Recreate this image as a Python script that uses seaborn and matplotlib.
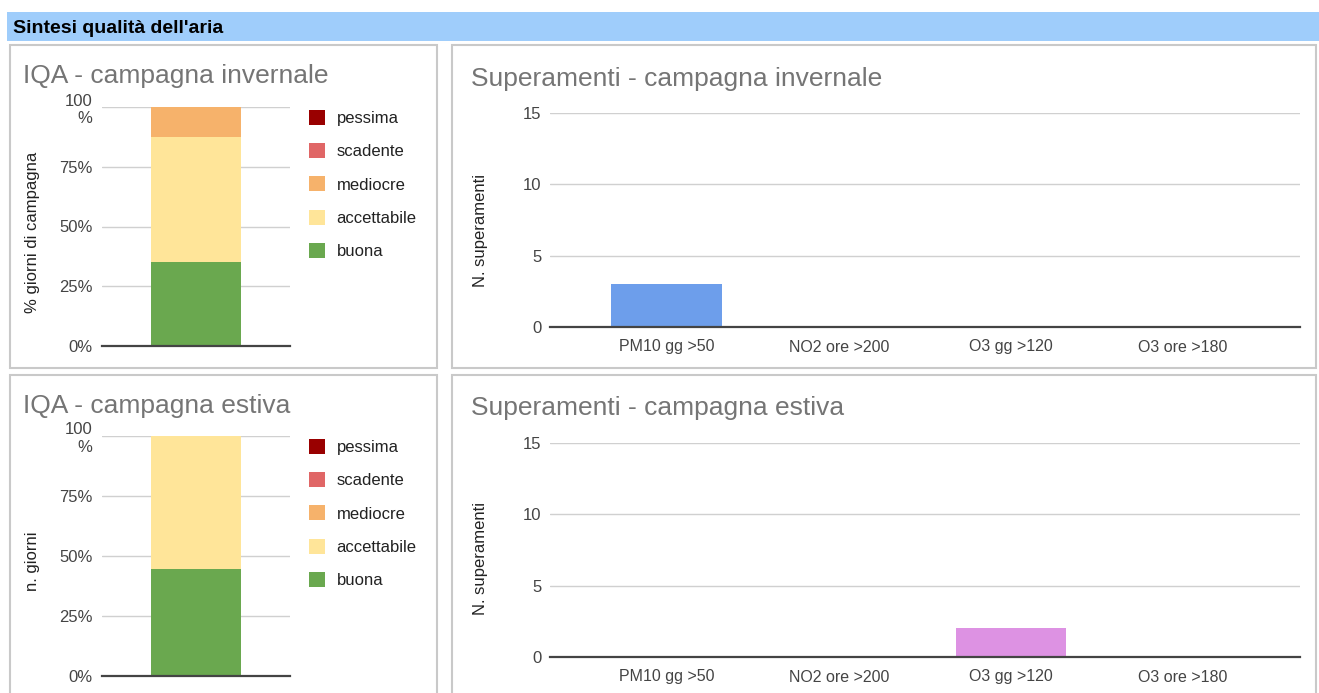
import matplotlib
matplotlib.use("Agg")
import matplotlib.pyplot as plt
from matplotlib.patches import Rectangle, Patch
import seaborn as sns
import pandas as pd

# ---------------- data ----------------
header_title = "Sintesi qualità dell'aria"

iqa_levels = ["pessima", "scadente", "mediocre", "accettabile", "buona"]
iqa_colors = ["#990000", "#e06666", "#f6b26b", "#ffe599", "#6aa84f"]
iqa_winter = [0.0, 0.0, 12.6, 52.3, 35.1]   # % giorni
iqa_summer = [0.0, 0.0, 0.0, 55.4, 44.6]
iqa_ticks = [0, 25, 50, 75, 100]
iqa_ticklabels = ["0%", "25%", "50%", "75%", "100\n%"]

exc_categories = ["PM10 gg >50", "NO2 ore >200", "O3 gg >120", "O3 ore >180"]
exc_colors = ["#6d9eeb", "#76a5af", "#dd92e3", "#c27ba0"]
exc_winter = [3, 0, 0, 0]
exc_summer = [0, 0, 2, 0]
exc_ticks = [0, 5, 10, 15]

titles = {
    "iqa_w": "IQA - campagna invernale",
    "iqa_s": "IQA - campagna estiva",
    "exc_w": "Superamenti - campagna invernale",
    "exc_s": "Superamenti - campagna estiva",
}
ylabels = {"iqa_w": "% giorni di campagna", "iqa_s": "n. giorni", "exc": "N. superamenti"}

# ---------------- style ----------------
sns.set_style("white")
plt.rcParams["font.family"] = ["Liberation Sans", "DejaVu Sans"]

W, H = 1319, 693
fig = plt.figure(figsize=(W / 100, H / 100), dpi=100)
fig.patch.set_facecolor("white")

TITLE_C = "#757575"
TICK_C = "#444444"
GRID_C = "#d0d0d0"
BASE_C = "#444444"


def px_axes(x0, y0, x1, y1):
    return fig.add_axes([x0 / W, 1 - y1 / H, (x1 - x0) / W, (y1 - y0) / H])


def fig_rect(x0, y0, x1, y1, **kw):
    r = Rectangle((x0 / W, 1 - y1 / H), (x1 - x0) / W, (y1 - y0) / H,
                  transform=fig.transFigure, **kw)
    fig.patches.append(r)


def fig_text(x, y, s, **kw):
    fig.text(x / W, 1 - y / H, s, **kw)


# header band
fig_rect(7, 12, W + 2, 41, facecolor="#9fcdfb", edgecolor="none", zorder=-2)
fig_text(13, 33, header_title, fontsize=14, fontweight="bold", color="black", va="baseline")

# panel borders
for (x0, y0, x1, y1) in [(10, 45, 437, 368), (452, 45, 1316, 368),
                         (10, 375, 437, 700), (452, 375, 1316, 700)]:
    fig_rect(x0, y0, x1, y1, facecolor="none", edgecolor="#c9c9c9", linewidth=1.5, zorder=-1)


def style_axes(ax, ticks, ticklabels, ypad):
    ax.set_ylim(ticks[0], ticks[-1])
    ax.set_yticks(ticks)
    ax.set_yticklabels(ticklabels)
    ax.tick_params(axis="y", length=0, pad=ypad, labelsize=12, labelcolor=TICK_C)
    ax.tick_params(axis="x", length=0)
    for s in ["left", "right", "top"]:
        ax.spines[s].set_visible(False)
    ax.spines["bottom"].set_color(BASE_C)
    ax.spines["bottom"].set_linewidth(1.6)
    ax.yaxis.grid(True, color=GRID_C, linewidth=1.0)
    ax.set_axisbelow(True)
    ax.set_facecolor("none")


def iqa_panel(box, values, title, title_xy, ylabel, ylab_y):
    ax = px_axes(*box)
    df = pd.DataFrame({"campagna": ["c"] * len(iqa_levels), "livello": iqa_levels, "pct": values})
    # stack from bottom (buona) to top (pessima)
    bottom = 0.0
    for lvl, col, v in reversed(list(zip(iqa_levels, iqa_colors, values))):
        sub = df[df["livello"] == lvl]
        if v > 0:
            sns.barplot(data=sub, x="campagna", y="pct", color=col, width=0.48,
                        bottom=bottom, linewidth=0, saturation=1, ax=ax, errorbar=None)
        bottom += v
    ax.set_xlim(-0.5, 0.5)
    style_axes(ax, iqa_ticks, iqa_ticklabels, 7)
    ax.set_xticks([])
    ax.set_xlabel("")
    ax.set_ylabel(ylabel, fontsize=12, color="#222222")
    ax.yaxis.set_label_coords(-0.33, ylab_y)
    handles = [Patch(facecolor=c, edgecolor="none") for c in iqa_colors]
    ax.legend(handles, iqa_levels, loc="upper left", bbox_to_anchor=(1.10, 0.987),
              frameon=False, fontsize=12, handlelength=1.0, handleheight=1.0,
              handletextpad=0.66, labelspacing=1.02, borderpad=0, borderaxespad=0,
              labelcolor="#222222")
    fig_text(title_xy[0], title_xy[1], title, fontsize=19, color=TITLE_C, va="baseline")
    return ax


def exc_panel(box, values, title, title_xy, ylab_y):
    ax = px_axes(*box)
    df = pd.DataFrame({"parametro": exc_categories, "n": values})
    sns.barplot(data=df, x="parametro", y="n", hue="parametro", palette=exc_colors,
                order=exc_categories, hue_order=exc_categories, width=0.645,
                linewidth=0, saturation=1, legend=False, ax=ax, errorbar=None)
    ax.set_xlim(-0.68, 3.68)
    style_axes(ax, exc_ticks, [str(t) for t in exc_ticks], 6)
    ax.tick_params(axis="x", pad=9, labelsize=11.5, labelcolor=TICK_C)
    ax.set_xlabel("")
    ax.set_ylabel(ylabels["exc"], fontsize=12, color="#222222")
    ax.yaxis.set_label_coords(-0.083, ylab_y)
    fig_text(title_xy[0], title_xy[1], title, fontsize=19, color=TITLE_C, va="baseline")
    return ax


iqa_panel((102, 107, 290, 346), iqa_winter, titles["iqa_w"], (23, 83), ylabels["iqa_w"], 0.477)
iqa_panel((102, 436, 290, 676), iqa_summer, titles["iqa_s"], (23, 413), ylabels["iqa_s"], 0.48)
exc_panel((550, 113, 1300, 327), exc_winter, titles["exc_w"], (471, 86), 0.453)
exc_panel((550, 443, 1300, 657), exc_summer, titles["exc_s"], (471, 415), 0.458)

fig.savefig("out.png", dpi=100)
